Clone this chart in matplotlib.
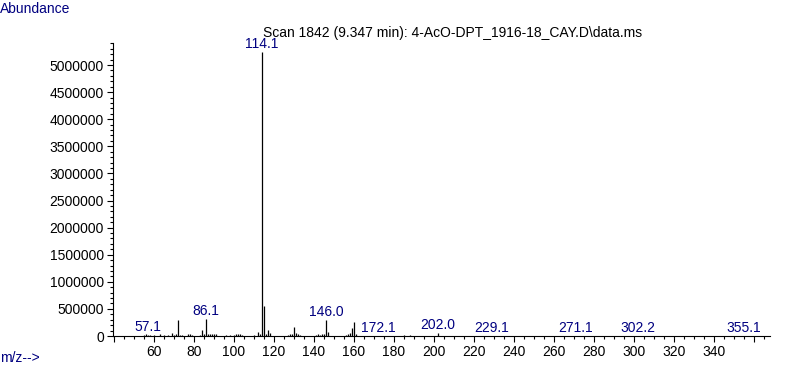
import matplotlib
matplotlib.use('Agg')
import matplotlib.pyplot as plt
from matplotlib.ticker import MultipleLocator, FixedLocator, FixedFormatter

plt.rcParams['font.family'] = ['Liberation Sans Narrow', 'Liberation Sans', 'DejaVu Sans']
plt.rcParams['font.size'] = 10

# spectrum (m/z, abundance)
mz = [55, 56, 57, 58, 60, 63, 65, 67, 69, 70, 71, 72, 73, 74, 77, 78, 79,
      83, 84, 85, 86, 87, 88, 89, 90, 91, 96, 98, 100, 101, 102, 103, 104,
      110, 112, 113, 114, 115, 116, 117, 118, 127, 128, 129, 130, 131, 132,
      133, 141, 142, 143, 144, 145, 146, 147, 156, 157, 158, 159, 160, 161,
      172, 185, 188, 202, 229, 271, 302, 355]
abundance = [25000, 30000, 20000, 15000, 20000, 30000, 25000, 20000, 60000,
             25000, 30000, 290000, 20000, 15000, 40000, 30000, 15000,
             20000, 110000, 30000, 320000, 30000, 40000, 45000, 30000, 40000,
             15000, 25000, 20000, 35000, 30000, 35000, 20000,
             20000, 65000, 30000, 5240000, 550000, 40000, 110000, 50000,
             25000, 40000, 45000, 170000, 55000, 30000, 20000,
             20000, 30000, 25000, 40000, 45000, 300000, 80000,
             25000, 45000, 60000, 150000, 255000, 40000,
             5000, 15000, 15000, 55000, 8000, 6000, 7000, 6000]

peak_labels = [57.1, 86.1, 114.1, 146.0, 172.1, 202.0, 229.1, 271.1, 302.2, 355.1]
x_ticks = [40, 60, 80, 100, 120, 140, 160, 180, 200, 220, 240, 260, 280,
           300, 320, 340, 360]
x_tick_labels = ['', '60', '80', '100', '120', '140', '160', '180', '200',
                 '220', '240', '260', '280', '300', '320', '340', '']
y_ticks = [0, 500000, 1000000, 1500000, 2000000, 2500000, 3000000,
           3500000, 4000000, 4500000, 5000000]

navy = '#000080'

fig = plt.figure(figsize=(7.87, 3.85), dpi=100)
ax = fig.add_axes([113 / 787, 49 / 385, 657 / 787, 293 / 385])

ax.vlines(mz, 0, abundance, colors='black', lw=0.9)

for lab in peak_labels:
    i = min(range(len(mz)), key=lambda k: abs(mz[k] - lab))
    ax.annotate('{:.1f}'.format(lab), xy=(round(lab), abundance[i]),
                xytext=(0, 0.5), textcoords='offset points',
                ha='center', va='bottom', color=navy, fontsize=10)

ax.set_xlim(39.5, 368)
ax.set_ylim(0, 5.406e6)

for s in ['top', 'right']:
    ax.spines[s].set_visible(False)
for s in ['left', 'bottom']:
    ax.spines[s].set_linewidth(0.8)

ax.xaxis.set_major_locator(FixedLocator(x_ticks))
ax.xaxis.set_major_formatter(FixedFormatter(x_tick_labels))
ax.xaxis.set_minor_locator(MultipleLocator(5))
ax.yaxis.set_major_locator(FixedLocator(y_ticks))
ax.yaxis.set_major_formatter(FixedFormatter([str(v) for v in y_ticks]))
ax.yaxis.set_minor_locator(MultipleLocator(100000))

ax.tick_params(which='major', length=4.5, width=0.8, labelsize=10, pad=2)
ax.tick_params(which='minor', length=2.5, width=0.8)

fig.text(263 / 787, 1 - 37 / 385,
         'Scan 1842 (9.347 min): 4-AcO-DPT_1916-18_CAY.D\\data.ms',
         ha='left', va='baseline', fontsize=10, color='black')
fig.text(0.0, 1 - 2 / 385, 'Abundance', ha='left', va='top',
         fontsize=10, color=navy)
fig.text(0.0, 1 - 358 / 385, 'm/z-->', ha='left', va='center',
         fontsize=10, color=navy)

fig.savefig('out.png', dpi=100)
